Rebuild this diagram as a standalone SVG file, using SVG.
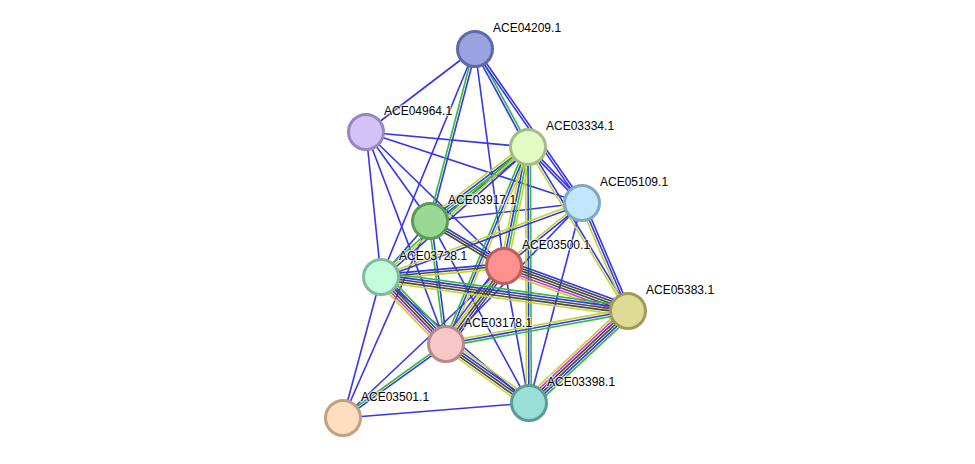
<svg xmlns="http://www.w3.org/2000/svg" width="975" height="464" viewBox="0 0 975 464">
<style>
line{stroke-width:1.6;fill:none}
.b{stroke:#3535ee}.g{stroke:#33bb33}.y{stroke:#c4d42e}.k{stroke:#474747}.m{stroke:#dd33dd}
.n circle{stroke-width:3}
text{font-family:"Liberation Sans",Arial,sans-serif;font-size:12px;fill:#000;stroke:#fff;stroke-width:2.5;stroke-opacity:0.6;paint-order:stroke}
</style>
<rect width="975" height="464" fill="#fff"/>
<g id="connectors">
<!-- single blue edges -->
<line class="b" x1="475" y1="49" x2="366" y2="132"/>
<line class="b" x1="475" y1="49" x2="504" y2="266"/>
<line class="b" x1="475" y1="49" x2="381" y2="277"/>
<line class="b" x1="366" y1="132" x2="528" y2="147"/>
<line class="b" x1="366" y1="132" x2="582" y2="203"/>
<line class="b" x1="366" y1="132" x2="430" y2="221"/>
<line class="b" x1="366" y1="132" x2="381" y2="277"/>
<line class="b" x1="366" y1="132" x2="446" y2="344"/>
<line class="b" x1="366" y1="132" x2="504" y2="266"/>
<line class="b" x1="582" y1="203" x2="430" y2="221"/>
<line class="b" x1="582" y1="203" x2="446" y2="344"/>
<line class="b" x1="582" y1="203" x2="529" y2="403"/>
<line class="b" x1="430" y1="221" x2="381" y2="277"/>
<line class="b" x1="430" y1="221" x2="529" y2="403"/>
<line class="b" x1="504" y1="266" x2="529" y2="403"/>
<line class="b" x1="381" y1="277" x2="529" y2="403"/>
<line class="b" x1="381" y1="277" x2="343" y2="418"/>
<line class="b" x1="529" y1="403" x2="343" y2="418"/>
<line class="b" x1="504" y1="266" x2="343" y2="418"/>
<line class="b" x1="430" y1="221" x2="343" y2="418"/>
<!-- multi-channel edges -->
<g transform="translate(475,49) rotate(104.66)"><line class="b" x1="0" y1="-1.2" x2="177.8" y2="-1.2"/><line class="g" x1="0" y1="1.2" x2="177.8" y2="1.2"/></g>
<g transform="translate(475,49) rotate(61.6)"><line class="g" x1="0" y1="-1.2" x2="111.4" y2="-1.2"/><line class="b" x1="0" y1="1.2" x2="111.4" y2="1.2"/></g>
<g transform="translate(475,49) rotate(55.2)"><line class="b" x1="0" y1="-1.2" x2="187.5" y2="-1.2"/><line class="b" x1="0" y1="1.2" x2="187.5" y2="1.2"/></g>
<g transform="translate(528,147) rotate(142.94)"><line class="b" x1="0" y1="-3.6" x2="122.8" y2="-3.6"/><line class="g" x1="0" y1="-1.2" x2="122.8" y2="-1.2"/><line class="b" x1="0" y1="1.2" x2="122.8" y2="1.2"/><line class="y" x1="0" y1="3.6" x2="122.8" y2="3.6"/></g>
<g transform="translate(528,147) rotate(101.4)"><line class="y" x1="0" y1="-3.6" x2="121.4" y2="-3.6"/><line class="g" x1="0" y1="-1.2" x2="121.4" y2="-1.2"/><line class="b" x1="0" y1="1.2" x2="121.4" y2="1.2"/><line class="y" x1="0" y1="3.6" x2="121.4" y2="3.6"/></g>
<g transform="translate(528,147) rotate(138.52)"><line class="b" x1="0" y1="-2.4" x2="196.2" y2="-2.4"/><line class="y" x1="0" y1="0" x2="196.2" y2="0"/><line class="g" x1="0" y1="2.4" x2="196.2" y2="2.4"/></g>
<g transform="translate(528,147) rotate(112.6)"><line class="y" x1="0" y1="-2.4" x2="213.4" y2="-2.4"/><line class="b" x1="0" y1="0" x2="213.4" y2="0"/><line class="g" x1="0" y1="2.4" x2="213.4" y2="2.4"/></g>
<g transform="translate(528,147) rotate(89.8)"><line class="g" x1="0" y1="-2.4" x2="256" y2="-2.4"/><line class="b" x1="0" y1="0" x2="256" y2="0"/><line class="y" x1="0" y1="2.4" x2="256" y2="2.4"/></g>
<g transform="translate(528,147) rotate(46.03)"><line class="b" x1="0" y1="-1.2" x2="77.8" y2="-1.2"/><line class="b" x1="0" y1="1.2" x2="77.8" y2="1.2"/></g>
<g transform="translate(528,147) rotate(58.63)"><line class="b" x1="0" y1="-1.2" x2="192.1" y2="-1.2"/><line class="y" x1="0" y1="1.2" x2="192.1" y2="1.2"/></g>
<g transform="translate(582,203) rotate(159.79)"><line class="b" x1="0" y1="-1.2" x2="214.2" y2="-1.2"/><line class="y" x1="0" y1="1.2" x2="214.2" y2="1.2"/></g>
<g transform="translate(582,203) rotate(141.07)"><line class="b" x1="0" y1="-1.2" x2="100.3" y2="-1.2"/><line class="y" x1="0" y1="1.2" x2="100.3" y2="1.2"/></g>
<g transform="translate(582,203) rotate(66.93)"><line class="b" x1="0" y1="-2.4" x2="117.4" y2="-2.4"/><line class="b" x1="0" y1="0" x2="117.4" y2="0"/><line class="y" x1="0" y1="2.4" x2="117.4" y2="2.4"/></g>
<g transform="translate(430,221) rotate(31.31)"><line class="b" x1="0" y1="-2.4" x2="86.6" y2="-2.4"/><line class="k" x1="0" y1="0" x2="86.6" y2="0"/><line class="k" x1="0" y1="2.4" x2="86.6" y2="2.4"/></g>
<g transform="translate(430,221) rotate(82.59)"><line class="b" x1="0" y1="-1.2" x2="124" y2="-1.2"/><line class="g" x1="0" y1="1.2" x2="124" y2="1.2"/></g>
<g transform="translate(504,266) rotate(174.89)"><line class="y" x1="0" y1="-2.4" x2="123.5" y2="-2.4"/><line class="k" x1="0" y1="0" x2="123.5" y2="0"/><line class="b" x1="0" y1="2.4" x2="123.5" y2="2.4"/></g>
<g transform="translate(504,266) rotate(19.94)"><line class="b" x1="0" y1="-6" x2="131.9" y2="-6"/><line class="k" x1="0" y1="-3.6" x2="131.9" y2="-3.6"/><line class="k" x1="0" y1="-1.2" x2="131.9" y2="-1.2"/><line class="k" x1="0" y1="1.2" x2="131.9" y2="1.2"/><line class="m" x1="0" y1="3.6" x2="131.9" y2="3.6"/><line class="y" x1="0" y1="6" x2="131.9" y2="6"/></g>
<g transform="translate(504,266) rotate(126.64)"><line class="b" x1="0" y1="-4.8" x2="97.2" y2="-4.8"/><line class="k" x1="0" y1="-2.4" x2="97.2" y2="-2.4"/><line class="k" x1="0" y1="0" x2="97.2" y2="0"/><line class="y" x1="0" y1="2.4" x2="97.2" y2="2.4"/><line class="b" x1="0" y1="4.8" x2="97.2" y2="4.8"/></g>
<g transform="translate(381,277) rotate(7.84)"><line class="g" x1="0" y1="-4.8" x2="249.3" y2="-4.8"/><line class="b" x1="0" y1="-2.4" x2="249.3" y2="-2.4"/><line class="k" x1="0" y1="0" x2="249.3" y2="0"/><line class="k" x1="0" y1="2.4" x2="249.3" y2="2.4"/><line class="y" x1="0" y1="4.8" x2="249.3" y2="4.8"/></g>
<g transform="translate(381,277) rotate(45.87)"><line class="g" x1="0" y1="-6" x2="93.3" y2="-6"/><line class="b" x1="0" y1="-3.6" x2="93.3" y2="-3.6"/><line class="k" x1="0" y1="-1.2" x2="93.3" y2="-1.2"/><line class="k" x1="0" y1="1.2" x2="93.3" y2="1.2"/><line class="m" x1="0" y1="3.6" x2="93.3" y2="3.6"/><line class="y" x1="0" y1="6" x2="93.3" y2="6"/></g>
<g transform="translate(628,311) rotate(169.72)"><line class="g" x1="0" y1="-2.4" x2="185" y2="-2.4"/><line class="b" x1="0" y1="0" x2="185" y2="0"/><line class="y" x1="0" y1="2.4" x2="185" y2="2.4"/></g>
<g transform="translate(628,311) rotate(137.09)"><line class="g" x1="0" y1="-6" x2="135.1" y2="-6"/><line class="b" x1="0" y1="-3.6" x2="135.1" y2="-3.6"/><line class="k" x1="0" y1="-1.2" x2="135.1" y2="-1.2"/><line class="k" x1="0" y1="1.2" x2="135.1" y2="1.2"/><line class="m" x1="0" y1="3.6" x2="135.1" y2="3.6"/><line class="y" x1="0" y1="6" x2="135.1" y2="6"/></g>
<g transform="translate(446,344) rotate(35.41)"><line class="y" x1="0" y1="-4.8" x2="101.8" y2="-4.8"/><line class="b" x1="0" y1="-2.4" x2="101.8" y2="-2.4"/><line class="k" x1="0" y1="0" x2="101.8" y2="0"/><line class="k" x1="0" y1="2.4" x2="101.8" y2="2.4"/><line class="y" x1="0" y1="4.8" x2="101.8" y2="4.8"/></g>
<g transform="translate(446,344) rotate(144.31)"><line class="b" x1="0" y1="-1.2" x2="126.8" y2="-1.2"/><line class="g" x1="0" y1="1.2" x2="126.8" y2="1.2"/></g>
</g>
<g id="ACE04209.1" class="n"><circle cx="475" cy="49" r="17.5" fill="#98a3e0" stroke="#5e6aa6"/><text x="493" y="32">ACE04209.1</text></g>
<g id="ACE04964.1" class="n"><circle cx="366" cy="132" r="17.5" fill="#d3c2f8" stroke="#9a85c2"/><text x="384" y="115">ACE04964.1</text></g>
<g id="ACE03334.1" class="n"><circle cx="528" cy="147" r="17.5" fill="#e2fcc4" stroke="#a3bd85"/><text x="546" y="130">ACE03334.1</text></g>
<g id="ACE05109.1" class="n"><circle cx="582" cy="203" r="17.5" fill="#c2e7fc" stroke="#7fa8c2"/><text x="600" y="186">ACE05109.1</text></g>
<g id="ACE03917.1" class="n"><circle cx="430" cy="221" r="17.5" fill="#9ad994" stroke="#5d9a58"/><text x="448" y="204">ACE03917.1</text></g>
<g id="ACE03500.1" class="n"><circle cx="504" cy="266" r="17.5" fill="#fc9190" stroke="#c05e5c"/><text x="522" y="249">ACE03500.1</text></g>
<g id="ACE03728.1" class="n"><circle cx="381" cy="277" r="17.5" fill="#c3fcdc" stroke="#80bb9b"/><text x="399" y="260">ACE03728.1</text></g>
<g id="ACE05383.1" class="n"><circle cx="628" cy="311" r="17.5" fill="#dedb96" stroke="#a09b58"/><text x="646" y="294">ACE05383.1</text></g>
<g id="ACE03178.1" class="n"><circle cx="446" cy="344" r="17.5" fill="#f7c6c6" stroke="#b98888"/><text x="464" y="327">ACE03178.1</text></g>
<g id="ACE03501.1" class="n"><circle cx="343" cy="418" r="17.5" fill="#fddfc0" stroke="#c0a182"/><text x="361" y="401">ACE03501.1</text></g>
<g id="ACE03398.1" class="n"><circle cx="529" cy="403" r="17.5" fill="#99ded7" stroke="#5c9c96"/><text x="547" y="386">ACE03398.1</text></g>
</svg>
